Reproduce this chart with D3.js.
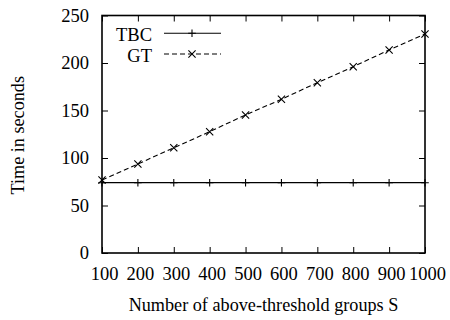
<!DOCTYPE html>
<html>
<head>
<meta charset="utf-8">
<script src="https://cdn.jsdelivr.net/npm/d3@7"></script>
<style>
  html, body { margin: 0; padding: 0; background: #fff; }
  svg text { font-family: "Liberation Serif", "Times New Roman", serif; fill: #000; }
</style>
</head>
<body>
<div id="chart"></div>
<script>
  // values
  const groupCounts = [100, 200, 300, 400, 500, 600, 700, 800, 900, 1000];
  const tbcTimes = [74, 74, 74, 74, 74, 74, 74, 74, 74, 74];
  const gtTimes = [76.8, 93.7, 110.8, 127.7, 145.3, 161.8, 179.3, 196.1, 213.7, 230.5];
  const xTicks = [100, 200, 300, 400, 500, 600, 700, 800, 900, 1000];
  const yTicks = [0, 50, 100, 150, 200, 250];
  const seriesNames = ["TBC", "GT"];

  const width = 450
  const height = 320
  const margin = { top: 15.5, right: 25, bottom: 67, left: 102 }
  const tickLen = 6
  const fontSize = 18.5

  const x = d3.scaleLinear([100, 1000], [margin.left, width - margin.right])
  const y = d3.scaleLinear([0, 250], [height - margin.bottom, margin.top])

  const svg = d3.select('#chart').append('svg')
    .attr('width', width)
    .attr('height', height)
    .attr('viewBox', [0, 0, width, height])

  // inward ticks on all four sides, gnuplot style
  const bottomAxis = d3.axisBottom(x).tickValues(xTicks).tickSize(-tickLen).tickPadding(14).tickFormat(d3.format('d'))
  const topAxis = d3.axisTop(x).tickValues(xTicks).tickSize(-tickLen).tickFormat('')
  const leftAxis = d3.axisLeft(y).tickValues(yTicks).tickSize(-tickLen).tickPadding(13).tickFormat(d3.format('d'))
  const rightAxis = d3.axisRight(y).tickValues(yTicks).tickSize(-tickLen).tickFormat('')

  function styleAxis(g) {
    g.select('.domain').remove()
    g.selectAll('.tick line').attr('stroke', '#000').attr('stroke-width', 1)
    g.selectAll('.tick text')
      .attr('font-size', fontSize)
      .attr('font-family', '"Liberation Serif", serif')
  }

  svg.append('g').attr('transform', `translate(0,${y(0)})`).call(bottomAxis).call(styleAxis)
    .selectAll('.tick text').attr('dx', 2)
  svg.append('g').attr('transform', `translate(0,${y(250)})`).call(topAxis).call(styleAxis)
  svg.append('g').attr('transform', `translate(${x(100)},0)`).call(leftAxis).call(styleAxis)
  svg.append('g').attr('transform', `translate(${x(1000)},0)`).call(rightAxis).call(styleAxis)

  svg.append('rect')
    .attr('x', x(100))
    .attr('y', y(250))
    .attr('width', x(1000) - x(100))
    .attr('height', y(0) - y(250))
    .attr('fill', 'none')
    .attr('stroke', '#000')
    .attr('stroke-width', 1.6)

  const tbc = groupCounts.map(function (s, i) { return { s: s, t: tbcTimes[i] } })
  const gt = groupCounts.map(function (s, i) { return { s: s, t: gtTimes[i] } })

  const line = d3.line().x(d => x(d.s)).y(d => y(d.t))

  function plusPath(cx, cy, r) {
    return `M${cx - r},${cy}H${cx + r}M${cx},${cy - r}V${cy + r}`
  }
  function crossPath(cx, cy, r) {
    return `M${cx - r},${cy - r}L${cx + r},${cy + r}M${cx - r},${cy + r}L${cx + r},${cy - r}`
  }

  svg.append('path')
    .datum(tbc)
    .attr('d', line)
    .attr('fill', 'none')
    .attr('stroke', '#000')
    .attr('stroke-width', 1.2)

  svg.append('g').selectAll('path')
    .data(tbc)
    .join('path')
      .attr('d', d => plusPath(x(d.s), y(d.t), 3.8))
      .attr('stroke', '#000')
      .attr('stroke-width', 1.1)

  svg.append('path')
    .datum(gt)
    .attr('d', line)
    .attr('fill', 'none')
    .attr('stroke', '#000')
    .attr('stroke-width', 1.1)
    .attr('stroke-dasharray', '5,3')

  svg.append('g').selectAll('path')
    .data(gt)
    .join('path')
      .attr('d', d => crossPath(x(d.s), y(d.t), 3.6))
      .attr('stroke', '#000')
      .attr('stroke-width', 1.1)

  // legend
  const legend = svg.append('g')
  const legendRows = [
    { name: seriesNames[0], ty: 40.5, ly: 33.3, dash: null, marker: plusPath, r: 3.8 },
    { name: seriesNames[1], ty: 61.5, ly: 54, dash: '5,3', marker: crossPath, r: 3.6 }
  ]
  legendRows.forEach(function (row) {
    legend.append('text')
      .attr('x', 152)
      .attr('y', row.ty)
      .attr('text-anchor', 'end')
      .attr('font-size', fontSize)
      .text(row.name)
    legend.append('line')
      .attr('x1', 164).attr('x2', 221)
      .attr('y1', row.ly).attr('y2', row.ly)
      .attr('stroke', '#000')
      .attr('stroke-width', 1.1)
      .attr('stroke-dasharray', row.dash)
    legend.append('path')
      .attr('d', row.marker(192, row.ly, row.r))
      .attr('stroke', '#000')
      .attr('stroke-width', 1.1)
  })

  svg.append('text')
    .attr('transform', `translate(24,${(y(0) + y(250)) / 2 + 1}) rotate(-90)`)
    .attr('text-anchor', 'middle')
    .attr('font-size', 18.2)
    .text('Time in seconds')

  svg.append('text')
    .attr('x', 263.5)
    .attr('y', 310.5)
    .attr('text-anchor', 'middle')
    .attr('font-size', 18.2)
    .text('Number of above-threshold groups S')
</script>
</body>
</html>
